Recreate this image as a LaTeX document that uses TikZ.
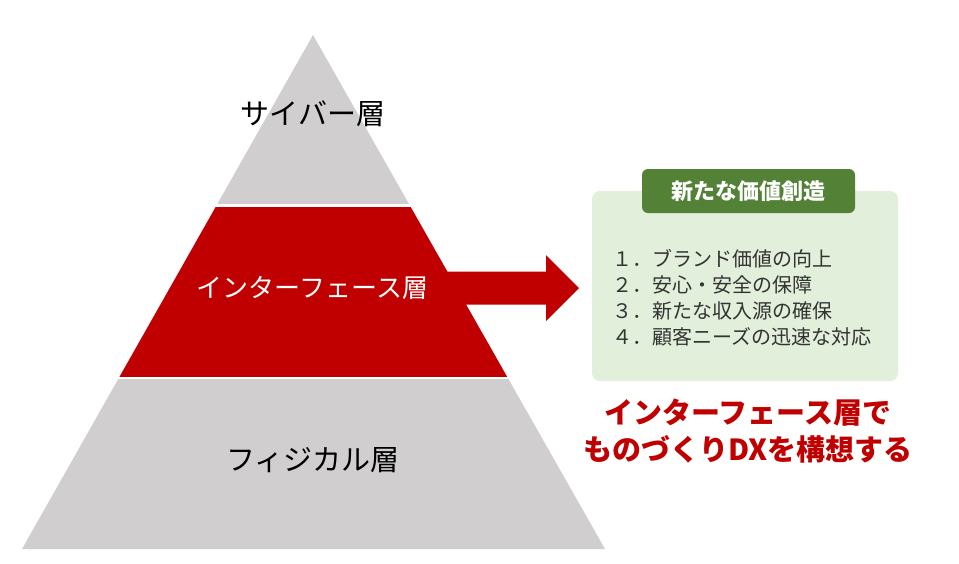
\documentclass[tikz,border=0pt]{standalone}
\usepackage{fontspec}
\usepackage{tikz}
\newfontfamily\jp{Noto Sans CJK JP}
\definecolor{layergray}{HTML}{D0CECE}
\definecolor{layerred}{HTML}{C00000}
\definecolor{boxgreen}{HTML}{E2EFDA}
\definecolor{titlegreen}{HTML}{538135}
\definecolor{listgray}{HTML}{333333}

\begin{document}
\begin{tikzpicture}[x=1pt, y=-1pt,
    layerlabel/.style={font=\jp\fontsize{29}{29}\selectfont, inner sep=0pt}]
        \useasboundingbox[fill=white] (0,0) rectangle (959,563);
        \coordinate (apex) at (313,35);
        \coordinate (baseL) at (22,549);
        \coordinate (baseR) at (605,549);

        % arrow out of the interface layer
        \fill[layerred] (420,271.5) -- (546,271.5) -- (546,255) -- (579,288) -- (546,321) -- (546,304.5) -- (420,304.5) -- cycle;

        % pyramid
        \begin{scope}
            \clip (apex) -- (baseL) -- (baseR) -- cycle;
            \fill[layergray] (0,0) rectangle (959,204);
            \fill[layerred] (0,206.5) rectangle (959,376.5);
            \fill[layergray] (0,379) rectangle (959,563);
        \end{scope}

        \node[layerlabel, text=black] (cyber) at (313,114) {サイバー層};
        \node[layerlabel, text=white, font=\jp\fontsize{26}{26}\selectfont] (iface) at (312.5,288) {インターフェース層};
        \node[layerlabel, text=black] (physical) at (313,460) {フィジカル層};

        % value box
        \node[fill=boxgreen, rounded corners=8pt, minimum width=306pt, minimum height=190pt, inner sep=0pt] (value) at (745,286) {};
        \node[fill=titlegreen, rounded corners=6pt, minimum width=213pt, minimum height=44pt, inner sep=0pt,
              text=white, font=\jp\bfseries\fontsize{22}{22}\selectfont] (title) at (748.5,191) {新たな価値創造};
        \node[anchor=west, align=left, inner sep=0pt, text=listgray, font=\jp\fontsize{20}{26}\selectfont] (items) at (612,298)
            {１．ブランド価値の向上\\２．安心・安全の保障\\３．新たな収入源の確保\\４．顧客ニーズの迅速な対応};

        \node[align=center, inner sep=0pt, text=layerred, font=\jp\bfseries\fontsize{29}{37}\selectfont] (message) at (748,431)
            {インターフェース層で\\ものづくりDXを構想する};
\end{tikzpicture}
\end{document}
